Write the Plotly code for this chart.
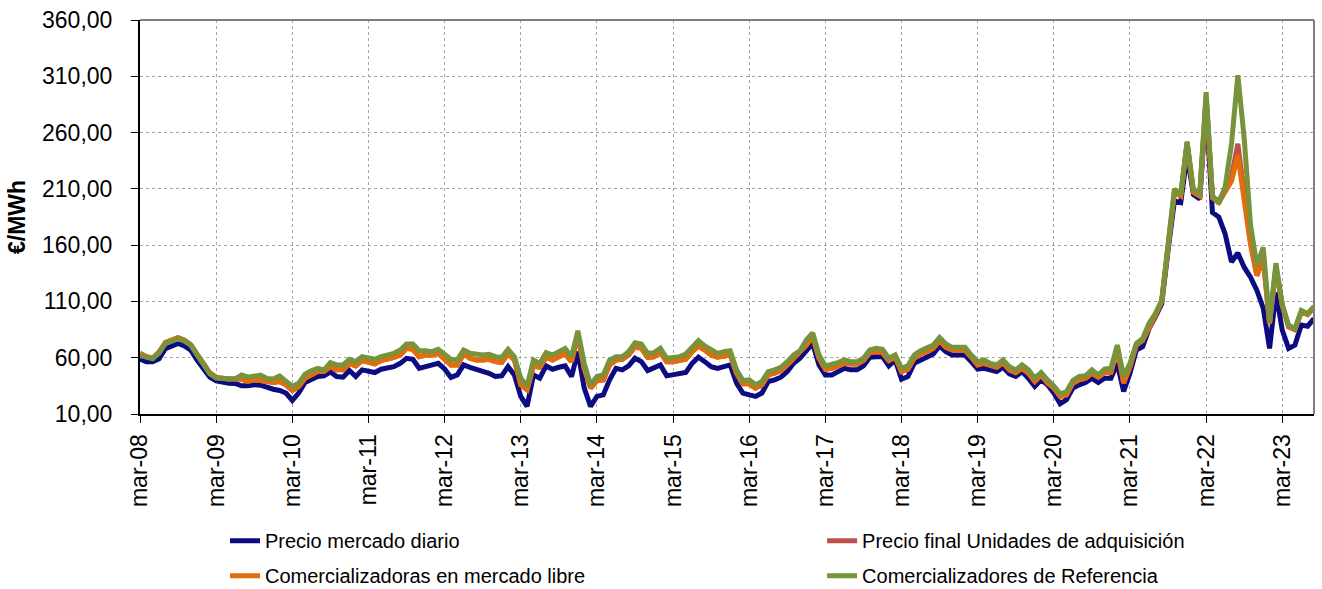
import plotly.graph_objects as go

BLUE = "#0b0b82"
RED = "#c0504d"
ORANGE = "#e46c0a"
GREEN = "#77933c"
GRID = "#a6a6a6"

# monthly categories mar-08 .. ago-23
MESES = ["ene", "feb", "mar", "abr", "may", "jun", "jul", "ago", "sep", "oct", "nov", "dic"]
months = []
for k in range(186):
    m = (2 + k) % 12
    yr = 8 + (2 + k) // 12
    months.append(f"{MESES[m]}-{yr:02d}")

tick_labels = [f"mar-{y:02d}" for y in range(8, 24)]

precio_diario = [
    58.9, 56.5, 56.5, 59.0, 68.0, 70.4, 72.7, 70.4, 66.8, 58.0, 50.6, 42.7,
    39.4, 38.0, 37.4, 37.1, 35.0, 35.0, 36.0, 35.6, 33.6, 32.0, 30.9, 28.6,
    22.0, 28.6, 38.0, 40.9, 43.3, 43.9, 47.4, 43.3, 42.7, 48.6, 43.3, 49.2,
    48.3, 46.8, 49.8, 50.6, 52.1, 55.0, 59.5, 58.6, 50.6, 52.1, 53.6, 55.0,
    50.0, 42.5, 44.7, 53.6, 51.5, 49.8, 48.6, 46.2, 43.3, 43.9, 52.1, 44.7,
    25.6, 16.8, 44.7, 41.8, 52.7, 49.8, 51.5, 52.7, 43.3, 65.4, 33.0, 16.8,
    25.6, 27.0, 40.3, 50.6, 49.2, 52.7, 59.5, 56.5, 48.6, 50.6, 53.6, 43.9,
    44.7, 46.2, 46.8, 55.0, 60.4, 56.5, 52.1, 50.6, 52.1, 53.6, 37.4, 28.6,
    27.0, 25.6, 28.6, 38.9, 40.3, 42.7, 47.7, 55.0, 59.5, 66.8, 72.7, 53.6,
    44.7, 44.7, 47.7, 50.6, 49.2, 49.2, 52.7, 60.4, 60.9, 60.9, 52.7, 58.0,
    40.9, 43.3, 55.0, 58.0, 60.4, 63.3, 70.4, 65.4, 62.4, 62.4, 62.4, 56.5,
    49.8, 50.6, 48.6, 47.7, 51.5, 45.6, 43.3, 47.7, 41.8, 34.4, 40.3, 35.9,
    28.6, 19.1, 22.7, 33.0, 35.9, 38.0, 41.8, 38.0, 41.8, 41.8, 55.0, 30.0,
    46.2, 66.8, 69.7, 85.9, 96.3, 108.0, 155.0, 199.3, 197.8, 240.0, 205.0, 201.0,
    284.0, 189.0, 185.0, 170.0, 145.0, 153.0, 140.4, 131.6, 119.8, 104.0, 68.3, 118.0,
    84.4, 68.3, 71.2, 89.0, 88.0, 94.8,
]

precio_final_ua = [
    64.0, 61.0, 59.5, 65.0, 73.5, 75.5, 77.8, 75.5, 71.5, 63.0, 54.5, 46.5,
    42.5, 41.5, 41.0, 41.0, 41.0, 38.9, 40.3, 39.7, 38.3, 38.0, 38.9, 35.9,
    30.9, 34.4, 41.8, 44.7, 47.7, 47.7, 52.1, 49.2, 49.2, 55.0, 52.7, 57.4,
    56.5, 54.5, 57.4, 58.6, 60.3, 62.4, 68.3, 67.4, 60.9, 62.4, 62.4, 63.9,
    58.6, 53.6, 53.6, 63.3, 59.5, 58.0, 58.0, 58.6, 56.5, 55.9, 63.3, 58.0,
    35.9, 31.5, 52.7, 51.5, 60.4, 58.0, 60.9, 63.3, 56.5, 80.0, 50.6, 33.0,
    39.7, 40.3, 53.6, 58.0, 58.6, 62.4, 69.8, 68.3, 60.4, 60.9, 64.5, 56.5,
    56.5, 57.0, 58.6, 65.4, 70.4, 66.8, 62.4, 60.4, 61.5, 62.4, 46.2, 36.8,
    36.8, 33.0, 35.9, 44.7, 46.2, 48.6, 53.6, 59.5, 63.9, 71.2, 78.6, 59.5,
    49.8, 50.6, 52.7, 55.0, 54.5, 54.5, 57.4, 64.5, 65.4, 64.5, 57.4, 60.4,
    47.7, 49.8, 59.5, 63.3, 65.4, 68.3, 75.1, 69.2, 66.8, 66.8, 66.8, 60.4,
    53.6, 55.0, 52.7, 51.5, 55.6, 49.2, 46.8, 50.6, 46.2, 38.9, 44.7, 37.5,
    33.0, 25.6, 27.0, 37.4, 40.3, 41.8, 46.2, 42.7, 46.8, 46.8, 68.3, 37.4,
    52.0, 71.2, 75.5, 88.0, 97.8, 110.0, 157.0, 206.7, 203.8, 250.8, 207.0, 203.7,
    292.0, 203.0, 199.0, 209.0, 221.0, 250.0, 203.0, 163.0, 133.0, 148.0, 90.4, 140.0,
    106.6, 87.4, 85.0, 100.7, 98.3, 104.5,
]

comerc_libre = [
    64.0, 61.0, 59.5, 65.0, 73.5, 75.5, 77.8, 75.5, 71.5, 63.0, 54.5, 46.5,
    42.5, 41.5, 41.0, 41.0, 41.0, 38.9, 40.3, 39.7, 38.3, 38.0, 38.9, 35.9,
    30.9, 34.4, 41.8, 44.7, 47.7, 47.7, 52.1, 49.2, 49.2, 55.0, 52.7, 57.4,
    56.5, 54.5, 57.4, 58.6, 60.3, 62.4, 68.3, 67.4, 60.9, 62.4, 62.4, 63.9,
    58.6, 53.6, 53.6, 63.3, 59.5, 58.0, 58.0, 58.6, 56.5, 55.9, 63.3, 58.0,
    35.9, 31.5, 52.7, 51.5, 60.4, 58.0, 60.9, 63.3, 56.5, 80.0, 50.6, 33.0,
    39.7, 40.3, 53.6, 58.0, 58.6, 62.4, 69.8, 68.3, 60.4, 60.9, 64.5, 56.5,
    56.5, 57.0, 58.6, 65.4, 70.4, 66.8, 62.4, 60.4, 61.5, 62.4, 46.2, 36.8,
    36.8, 33.0, 35.9, 44.7, 46.2, 48.6, 53.6, 59.5, 63.9, 71.2, 78.6, 59.5,
    49.8, 50.6, 52.7, 55.0, 54.5, 54.5, 57.4, 64.5, 65.4, 64.5, 57.4, 60.4,
    47.7, 49.8, 59.5, 63.3, 65.4, 68.3, 75.1, 69.2, 66.8, 66.8, 66.8, 60.4,
    53.6, 55.0, 52.7, 51.5, 55.6, 49.2, 46.8, 50.6, 46.2, 38.9, 44.7, 37.5,
    33.0, 25.6, 27.0, 37.4, 40.3, 41.8, 46.2, 42.7, 46.8, 46.8, 68.3, 37.4,
    52.0, 71.2, 75.5, 88.0, 97.8, 110.0, 157.0, 206.7, 203.8, 250.8, 207.0, 203.7,
    290.0, 202.0, 197.8, 206.7, 217.0, 240.0, 198.0, 160.0, 133.0, 148.0, 90.4, 140.0,
    106.6, 87.4, 85.0, 100.7, 98.3, 104.5,
]

comerc_referencia = [
    62.0, 60.0, 59.0, 64.0, 72.7, 74.8, 76.8, 74.8, 71.2, 62.4, 53.6, 45.6,
    42.0, 41.2, 41.2, 41.2, 44.7, 42.7, 43.9, 44.5, 41.5, 41.2, 43.9, 39.7,
    34.4, 37.4, 45.3, 48.3, 50.6, 49.2, 55.6, 53.6, 53.6, 58.6, 56.5, 60.9,
    60.1, 58.6, 60.9, 62.4, 63.9, 66.8, 72.1, 72.1, 66.2, 66.2, 65.4, 67.4,
    63.3, 58.6, 58.0, 66.8, 63.9, 63.0, 62.4, 63.0, 60.9, 60.3, 67.4, 60.9,
    41.8, 35.0, 58.0, 55.0, 64.5, 62.4, 65.4, 68.3, 60.9, 83.9, 55.0, 35.9,
    43.3, 44.7, 58.0, 60.9, 60.9, 65.4, 73.3, 72.1, 63.9, 64.5, 68.3, 59.5,
    60.3, 60.9, 63.3, 69.2, 75.1, 70.4, 66.8, 63.9, 65.4, 66.2, 49.2, 39.7,
    40.3, 35.9, 38.9, 47.7, 49.2, 51.5, 56.5, 62.4, 66.2, 75.7, 82.1, 62.4,
    52.7, 53.6, 55.6, 58.0, 56.5, 56.5, 59.5, 66.8, 68.3, 67.4, 59.5, 62.4,
    50.6, 52.7, 62.4, 66.2, 68.3, 71.2, 78.0, 72.1, 69.2, 69.2, 69.2, 62.4,
    56.5, 58.0, 55.0, 53.6, 58.0, 52.1, 49.2, 53.6, 49.2, 41.8, 46.8, 40.3,
    35.0, 27.9, 30.0, 39.7, 43.3, 43.9, 49.2, 44.7, 49.8, 50.6, 71.2, 43.3,
    55.0, 72.7, 77.1, 90.4, 99.2, 111.0, 158.0, 209.6, 205.0, 252.0, 209.0, 206.0,
    296.0, 204.0, 197.0, 212.0, 250.0, 311.0, 255.0, 178.0, 142.0, 158.0, 92.0, 144.0,
    107.0, 88.9, 86.0, 102.0, 99.2, 105.7,
]

# (name, values, colour, legend box) -- legend boxes mimic the two-column layout
series = [
    ("Precio mercado diario", precio_diario, BLUE, "legend"),
    ("Precio final Unidades de adquisición", precio_final_ua, RED, "legend2"),
    ("Comercializadoras en mercado libre", comerc_libre, ORANGE, "legend"),
    ("Comercializadores de Referencia", comerc_referencia, GREEN, "legend2"),
]

fig = go.Figure()
for name, vals, color, leg in series:
    fig.add_trace(go.Scatter(
        x=months,
        y=vals,
        name=name,
        legend=leg,
        legendgroup=name,
        mode="lines",
        line=dict(color=color, width=5),
        hovertemplate="%{x}<br>%{y:.2f} €/MWh<extra></extra>",
    ))

legend_style = dict(
    orientation="v",
    y=-0.272,
    yanchor="top",
    xanchor="left",
    font=dict(size=20),
    tracegroupgap=6,
    bgcolor="rgba(0,0,0,0)",
)

fig.update_layout(
    width=1322,
    height=589,
    margin=dict(l=140, r=8, t=20, b=175, autoexpand=False),
    paper_bgcolor="white",
    plot_bgcolor="white",
    separators=",.",
    font=dict(family="Liberation Sans, Arial, sans-serif", size=23, color="black"),
    xaxis=dict(
        type="category",
        range=[0, 185],
        tickvals=tick_labels,
        ticktext=tick_labels,
        tickangle=-90,
        ticks="outside",
        ticklen=7,
        tickcolor="black",
        ticklabelstandoff=2,
        showgrid=True,
        gridcolor=GRID,
        griddash="3px,3px",
        gridwidth=1,
        showline=True,
        linecolor="black",
        linewidth=2,
        zeroline=False,
    ),
    yaxis=dict(
        title=dict(text="<b>€/MWh</b>", standoff=10, font=dict(size=23)),
        range=[10, 360],
        tick0=10,
        dtick=50,
        tickformat=".2f",
        ticks="outside",
        ticklen=7,
        tickcolor="black",
        ticklabelstandoff=14,
        showgrid=True,
        gridcolor=GRID,
        griddash="3px,3px",
        gridwidth=1,
        showline=True,
        linecolor="black",
        linewidth=2,
        zeroline=False,
    ),
    legend=dict(x=0.0724, **legend_style),
    legend2=dict(x=0.581, **legend_style),
    shapes=[
        dict(type="line", xref="paper", yref="paper", x0=0, x1=1, y0=1, y1=1,
             line=dict(color="#808080", width=2)),
        dict(type="line", xref="paper", yref="paper", x0=1, x1=1, y0=0, y1=1,
             line=dict(color="#808080", width=2)),
    ],
)

fig.write_html(
    "out.html",
    config={"displayModeBar": False},
    post_script="document.body.style.margin='0px';",
)
